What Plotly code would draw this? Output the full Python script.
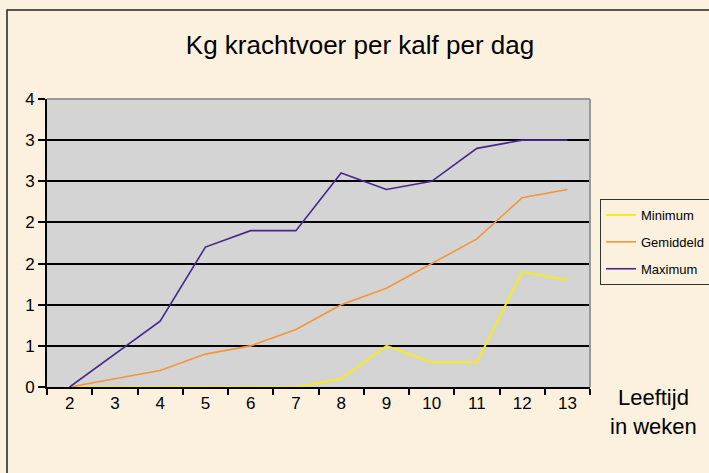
import plotly.graph_objects as go

# Leeftijd in weken (categorieën op de x-as)
weken = ["2", "3", "4", "5", "6", "7", "8", "9", "10", "11", "12", "13"]

# Kg krachtvoer per kalf per dag
minimum = [0, 0, 0, 0, 0, 0, 0.1, 0.5, 0.3, 0.3, 1.4, 1.3]
gemiddeld = [0, 0.1, 0.2, 0.4, 0.5, 0.7, 1.0, 1.2, 1.5, 1.8, 2.3, 2.4]
maximum = [0, 0.4, 0.8, 1.7, 1.9, 1.9, 2.6, 2.4, 2.5, 2.9, 3.0, 3.0]

# y-as labels zoals in Excel (halve stappen, afgerond zonder decimalen)
y_ticks = [0, 0.5, 1, 1.5, 2, 2.5, 3, 3.5]
y_labels = ["0", "1", "1", "2", "2", "3", "3", "4"]

series = [
    ("Minimum", minimum, "#F5EB1E", 2),
    ("Gemiddeld", gemiddeld, "#F2963A", 1.6),
    ("Maximum", maximum, "#46288C", 1.6),
]

fig = go.Figure()
for naam, waarden, kleur, dikte in series:
    fig.add_trace(go.Scatter(
        x=weken, y=waarden, name=naam, mode="lines",
        line=dict(color=kleur, width=dikte),
        legendgroup=naam,
    ))

W, H = 709, 473
L, R, T, B = 47, 119, 99, 86
pw, ph = W - L - R, H - T - B

fig.update_layout(
    width=W, height=H,
    margin=dict(l=L, r=R, t=T, b=B, autoexpand=False),
    paper_bgcolor="#FCF1DE",
    plot_bgcolor="#D4D4D4",
    font=dict(family="Liberation Sans, Arial, sans-serif", color="black", size=17),
    title=dict(text="Kg krachtvoer per kalf per dag", x=360 / W, xanchor="center",
               y=1 - 45 / H, yanchor="middle", font=dict(size=26)),
    legend=dict(x=(600 - L) / pw, y=1 - (199 - T) / ph, xanchor="left", yanchor="top",
                bgcolor="rgba(0,0,0,0)", bordercolor="#333", borderwidth=1,
                font=dict(size=13), tracegroupgap=7, itemwidth=30),
    showlegend=True,
)

fig.update_xaxes(
    type="category", tickson="boundaries", ticks="outside", ticklen=6,
    tickcolor="black", tickwidth=2, showline=True, linecolor="black", linewidth=2,
    showgrid=False, range=[-0.5, 11.5], fixedrange=True,
)
fig.update_yaxes(
    range=[0, 3.5], tickvals=y_ticks, ticktext=y_labels, ticks="outside", ticklen=7,
    tickcolor="black", tickwidth=2, showline=True, linecolor="black", linewidth=2,
    showgrid=True, gridcolor="black", gridwidth=2, zeroline=False,
)

# grijze rand boven en rechts van het plotvlak
fig.add_shape(type="line", xref="paper", yref="paper", x0=0, x1=1, y0=1, y1=1,
              line=dict(color="#9A9A9A", width=2), layer="above")
fig.add_shape(type="line", xref="paper", yref="paper", x0=1, x1=1, y0=0, y1=1,
              line=dict(color="#9A9A9A", width=2), layer="above")
# rand van de grafiek (links en boven zichtbaar)
fig.add_shape(type="rect", xref="paper", yref="paper",
              x0=(7 - L) / pw, x1=(W + 20 - L) / pw,
              y0=-(B + 20) / ph, y1=1 + (T - 10) / ph,
              line=dict(color="#222", width=1.5), layer="below")

fig.add_annotation(text="Leeftijd<br>in weken", xref="paper", yref="paper",
                   x=(653 - L) / pw, y=-(412 - (T + ph)) / ph, xanchor="center", yanchor="middle",
                   showarrow=False, font=dict(size=22))

fig.write_html("out.html", config={"displayModeBar": False},
               post_script="document.body.style.margin='0';")
